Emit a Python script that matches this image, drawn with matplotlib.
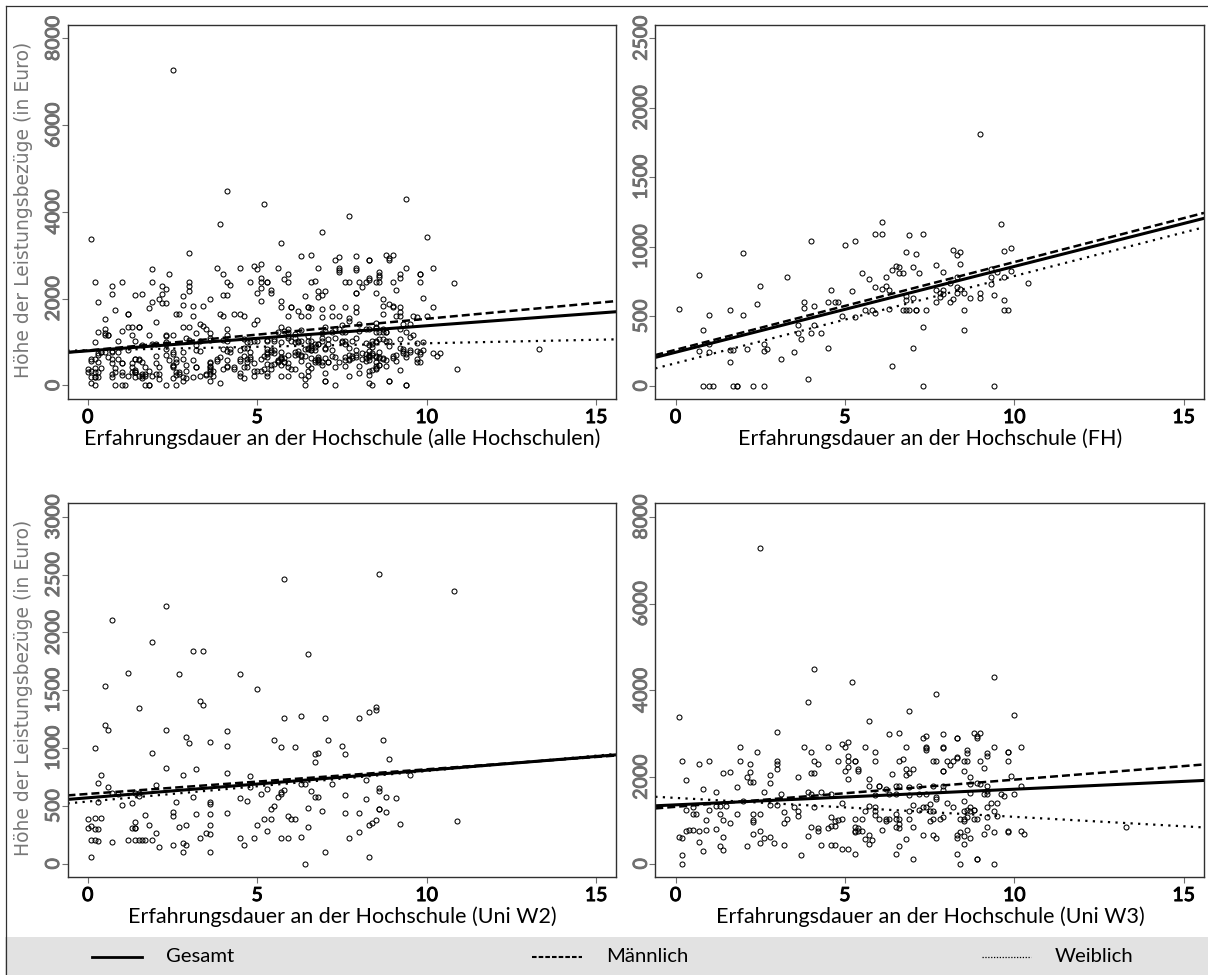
import matplotlib
matplotlib.use('Agg')
from matplotlib import pyplot as plt
from matplotlib import patheffects
from matplotlib.lines import Line2D
from matplotlib.patches import Rectangle

W, H = 1208, 975

# --- Punkte (Erfahrung, Euro) ---
fh_points = [
    (.09, 552), (.7, 796), (.8, 398), (1.0, 509), (1.0, 298), (.7, 250), (1.0, 240), (.8, 0), (1.0, 0), (1.1, 0),
    (1.6, 547), (1.6, 254), (1.7, 259), (1.6, 168), (1.7, 0), (1.8, 0), (1.8, 0), (2.0, 952), (2.0, 509), (2.1, 262),
    (2.3, 0), (2.4, 585), (2.5, 720), (2.6, 298), (2.6, 247), (2.7, 262), (2.6, 0), (3.1, 192), (3.3, 785), (3.5, 240),
    (3.6, 437), (3.6, 381), (3.7, 336), (3.8, 605), (3.8, 557), (3.9, 48), (4.0, 1039), (4.0, 381), (4.1, 576), (4.1, 434),
    (4.3, 381), (4.5, 605), (4.5, 273), (4.6, 686), (4.7, 600), (4.8, 605), (4.9, 504), (5.0, 1015), (5.2, 684), (5.3, 1044),
    (5.3, 494), (5.5, 809), (5.6, 547), (5.7, 768), (5.8, 547), (5.9, 1092), (5.9, 710), (5.9, 523), (6.1, 1092), (6.1, 1178),
    (6.1, 693), (6.2, 780), (6.2, 715), (6.3, 691), (6.3, 552), (6.4, 830), (6.4, 144), (6.5, 864), (6.6, 852), (6.6, 811),
    (6.7, 811), (6.7, 547), (6.8, 960), (6.8, 643), (6.8, 614), (6.8, 547), (6.9, 1085), (6.9, 547), (7.0, 852), (7.0, 631),
    (7.0, 273), (7.1, 945), (7.1, 547), (7.1, 547), (7.2, 811), (7.3, 1092), (7.3, 425), (7.3, 0), (7.4, 547), (7.7, 871),
    (7.7, 691), (7.7, 605), (7.8, 665), (7.8, 641), (7.9, 818), (7.9, 691), (7.9, 662), (8.1, 741), (8.1, 605), (8.2, 974),
    (8.2, 624), (8.3, 938), (8.3, 780), (8.3, 708), (8.3, 669), (8.4, 960), (8.4, 878), (8.4, 698), (8.5, 665), (8.5, 547),
    (8.5, 401), (8.7, 633), (9.0, 1809), (9.0, 665), (9.0, 629), (9.3, 837), (9.3, 785), (9.3, 734), (9.4, 655), (9.4, 0),
    (9.5, 821), (9.6, 1166), (9.7, 967), (9.7, 785), (9.7, 614), (9.7, 547), (9.8, 547), (9.9, 988), (9.9, 825), (10.4, 737),
]
w2_points = [
    (0, 383), (0, 305), (.1, 328), (.1, 202), (.1, 60), (.2, 997), (.2, 398), (.2, 300), (.2, 202), (.3, 697),
    (.3, 533), (.3, 297), (.3, 199), (.4, 398), (.4, 767), (.5, 1533), (.5, 1196), (.6, 1153), (.6, 660), (.7, 2107),
    (.7, 611), (.7, 190), (.9, 602), (1.0, 510), (1.2, 1646), (1.2, 207), (1.3, 522), (1.3, 311), (1.4, 614), (1.4, 363),
    (1.4, 308), (1.4, 308), (1.4, 202), (1.5, 1343), (1.5, 614), (1.5, 585), (1.5, 205), (1.6, 207), (1.7, 207), (1.7, 418),
    (1.8, 334), (1.9, 1919), (1.9, 960), (1.9, 207), (2.0, 677), (2.0, 268), (2.1, 141), (2.3, 2231), (2.3, 1153), (2.3, 830),
    (2.5, 444), (2.5, 415), (2.5, 158), (2.6, 536), (2.7, 1643), (2.7, 314), (2.8, 767), (2.8, 182), (2.8, 104), (2.9, 1092),
    (2.9, 334), (2.9, 158), (3.0, 1043), (3.1, 1836), (3.1, 573), (3.2, 816), (3.2, 429), (3.3, 1409), (3.3, 219), (3.4, 1836),
    (3.4, 1375), (3.5, 265), (3.6, 1055), (3.6, 533), (3.6, 519), (3.6, 429), (3.6, 334), (3.6, 254), (3.6, 104), (4.1, 1150),
    (4.1, 1020), (4.1, 787), (4.1, 441), (4.5, 1643), (4.5, 565), (4.5, 219), (4.6, 164), (4.7, 539), (4.8, 761), (4.8, 660),
    (4.9, 219), (5.0, 1513), (5.0, 337), (5.1, 599), (5.2, 386), (5.3, 648), (5.3, 280), (5.4, 470), (5.4, 386), (5.5, 1066),
    (5.5, 501), (5.6, 573), (5.7, 1006), (5.7, 602), (5.7, 620), (5.7, 222), (5.8, 2458), (5.8, 1262), (5.8, 634), (5.9, 415),
    (5.9, 222), (6.0, 383), (6.1, 1006), (6.1, 383), (6.3, 1274), (6.3, 686), (6.3, 228), (6.4, 686), (6.4, 0), (6.5, 1813),
    (6.5, 478), (6.5, 320), (6.6, 628), (6.7, 876), (6.7, 945), (6.7, 573), (6.8, 960), (6.8, 573), (6.9, 458), (7.0, 1256),
    (7.0, 104), (7.1, 1066), (7.2, 686), (7.5, 1014), (7.6, 951), (7.6, 591), (7.6, 435), (7.7, 219), (8.0, 1256), (8.0, 435),
    (8.0, 274), (8.2, 726), (8.2, 556), (8.3, 1308), (8.3, 337), (8.3, 58), (8.4, 354), (8.5, 1354), (8.5, 1326), (8.5, 380),
    (8.6, 2504), (8.6, 651), (8.6, 628), (8.6, 476), (8.6, 476), (8.7, 1066), (8.8, 573), (8.8, 444), (8.9, 908), (9.1, 565),
    (9.2, 343), (9.5, 764), (10.8, 2357), (10.9, 372),
]
w3_points = [
    (.1, 3381), (.1, 607), (.2, 2375), (.2, 600), (.2, 192), (.2, 0), (.3, 1921), (.3, 1237), (.3, 745), (.4, 768),
    (.5, 768), (.5, 1299), (.5, 1153), (.6, 1153), (.7, 2298), (.7, 761), (.7, 507), (.8, 1729), (.8, 300), (.9, 1014),
    (.9, 768), (1.0, 2375), (1.0, 1245), (1.2, 1652), (1.2, 1337), (1.2, 807), (1.3, 1337), (1.3, 1153), (1.3, 415), (1.4, 2083),
    (1.4, 1014), (1.4, 607), (1.4, 307), (1.5, 1337), (1.6, 2106), (1.6, 938), (1.8, 1775), (1.8, 1153), (1.9, 2682), (1.9, 2375),
    (2.0, 1452), (2.1, 1990), (2.1, 415), (2.2, 2298), (2.2, 2106), (2.2, 1890), (2.3, 1890), (2.3, 1145), (2.3, 1007), (2.3, 953),
    (2.3, 691), (2.4, 2567), (2.5, 7270), (2.5, 1153), (2.5, 761), (2.5, 469), (2.6, 1652), (2.6, 600), (2.8, 2052), (2.8, 1852),
    (2.8, 1345), (2.8, 607), (2.9, 469), (3.0, 3043), (3.0, 2375), (3.0, 2290), (3.0, 2183), (3.0, 1352), (3.1, 1606), (3.2, 1199),
    (3.2, 930), (3.2, 423), (3.3, 1030), (3.5, 1306), (3.6, 1990), (3.6, 1207), (3.6, 1091), (3.7, 207), (3.8, 2697), (3.9, 3719),
    (3.9, 1652), (3.9, 645), (4.0, 2567), (4.0, 2083), (4.0, 1606), (4.0, 838), (4.1, 4488), (4.1, 2375), (4.1, 2083), (4.1, 1299),
    (4.2, 2305), (4.2, 830), (4.2, 761), (4.3, 1645), (4.3, 423), (4.5, 2697), (4.5, 822), (4.6, 1606), (4.6, 1076), (4.6, 861),
    (4.6, 423), (4.7, 991), (4.7, 861), (4.7, 423), (4.8, 2375), (4.8, 1007), (4.9, 2759), (4.9, 1406), (4.9, 1030), (4.9, 330),
    (5.0, 2682), (5.0, 2136), (5.1, 2797), (5.1, 2482), (5.1, 2375), (5.1, 2236), (5.1, 1952), (5.1, 330), (5.2, 4180), (5.3, 2375),
    (5.3, 2375), (5.3, 1030), (5.3, 838), (5.3, 761), (5.3, 730), (5.3, 215), (5.4, 822), (5.4, 761), (5.4, 2190), (5.4, 2129),
    (5.5, 1030), (5.5, 753), (5.6, 2697), (5.6, 1222), (5.6, 561), (5.7, 3281), (5.7, 1952), (5.7, 1798), (5.7, 1337), (5.7, 661),
    (5.7, 461), (5.8, 538), (5.9, 2567), (5.9, 2375), (5.9, 1591), (5.9, 1299), (5.9, 1222), (5.9, 1130), (6.0, 1798), (6.0, 1798),
    (6.0, 1030), (6.1, 768), (6.2, 1722), (6.2, 1022), (6.2, 991), (6.3, 2990), (6.3, 1606), (6.3, 1030), (6.4, 2067), (6.5, 1798),
    (6.5, 1606), (6.5, 1145), (6.5, 1030), (6.5, 838), (6.5, 215), (6.6, 3012), (6.6, 2375), (6.6, 1783), (6.6, 1030), (6.6, 915),
    (6.6, 822), (6.6, 407), (6.7, 2405), (6.8, 2697), (6.8, 2183), (6.8, 2044), (6.8, 576), (6.9, 3527), (6.9, 2083), (6.9, 1767),
    (6.9, 1575), (6.9, 1207), (6.9, 1030), (7.0, 2183), (7.0, 1352), (7.0, 838), (7.0, 108), (7.2, 1798), (7.2, 1606), (7.2, 1237),
    (7.3, 2897), (7.3, 1299), (7.3, 661), (7.4, 2951), (7.4, 2697), (7.4, 2659), (7.4, 2620), (7.4, 1606), (7.4, 1299), (7.5, 1383),
    (7.5, 1222), (7.5, 991), (7.6, 1798), (7.6, 2375), (7.6, 1222), (7.6, 1030), (7.6, 661), (7.7, 3912), (7.7, 2375), (7.7, 1545),
    (7.7, 1483), (7.7, 584), (7.8, 1030), (7.9, 2990), (7.9, 2697), (7.9, 2659), (7.9, 2136), (7.9, 2136), (7.9, 1798), (7.9, 1698),
    (7.9, 1084), (8.0, 2375), (8.0, 1406), (8.1, 2275), (8.2, 2375), (8.2, 1299), (8.3, 2897), (8.3, 2897), (8.3, 2428), (8.3, 2467),
    (8.3, 661), (8.3, 584), (8.3, 230), (8.4, 1030), (8.4, 738), (8.4, 0), (8.5, 2375), (8.5, 2136), (8.5, 1437), (8.5, 1222),
    (8.5, 1030), (8.5, 991), (8.5, 645), (8.5, 446), (8.6, 2620), (8.6, 2544), (8.6, 2375), (8.6, 1237), (8.6, 1068), (8.6, 768),
    (8.7, 1990), (8.7, 1829), (8.7, 1637), (8.7, 1299), (8.7, 1222), (8.7, 600), (8.8, 3012), (8.8, 1237), (8.8, 1237), (8.8, 1030),
    (8.9, 2943), (8.9, 2890), (8.9, 1867), (8.9, 1030), (8.9, 108), (8.9, 108), (9.0, 3012), (9.0, 2375), (9.0, 1837), (9.1, 2206),
    (9.1, 1606), (9.1, 691), (9.2, 2559), (9.2, 2475), (9.2, 1798), (9.2, 1683), (9.2, 1606), (9.2, 1299), (9.2, 1076), (9.2, 853),
    (9.3, 1406), (9.4, 4296), (9.4, 2697), (9.4, 1222), (9.4, 722), (9.4, 0), (9.5, 1406), (9.5, 1107), (9.6, 1606), (9.7, 1568),
    (9.8, 2567), (9.8, 2567), (9.8, 2375), (9.8, 761), (9.8, 730), (9.9, 2014), (10.0, 3420), (10.0, 1606), (10.2, 2697), (10.2, 1798),
    (10.2, 745), (10.3, 676), (13.3, 838),
]
# "alle Hochschulen" ist die Vereinigung der drei Gruppen
alle_points = fh_points + w2_points + w3_points

# --- Regressionsgeraden: Werte am linken und rechten Rand (Gesamt, Maennlich, Weiblich) ---
alle_lines = [(760, 1697), (760, 1943), (798, 1060)]
fh_lines = [(204, 1204), (221, 1243), (125, 1140)]
w2_lines = [(556, 942), (591, 936), (522, 950)]
w3_lines = [(1337, 1921), (1276, 2290), (1545, 838)]

line_x = [-0.6, 15.6]
x_ticks = [0, 5, 10, 15]
legend_names = ['Gesamt', 'Männlich', 'Weiblich']

DASHES = {'Gesamt': '-', 'Männlich': (0, (3.2, 1.6)), 'Weiblich': (0, (1, 2.4))}
WIDTHS = {'Gesamt': 2.2, 'Männlich': 1.8, 'Weiblich': 1.6}
GRAY = '#6f6f6f'
SANS = 'Lato'


def px_axes(fig, left, top, right, bottom):
    return fig.add_axes([left / W, 1 - bottom / H, (right - left) / W, (bottom - top) / H])


def fett(lab, color):
    # Lato fett kommt nicht durch, also Kontur drum
    lab.set_family(SANS)
    lab.set_path_effects([patheffects.withStroke(linewidth=0.7, foreground=color)])


fig = plt.figure(figsize=(W / 100, H / 100), dpi=100)
fig.patch.set_facecolor('white')

panels = [
    (alle_points, alle_lines, 'Erfahrungsdauer an der Hochschule (alle Hochschulen)', [0, 2000, 4000, 6000, 8000],
     (-322, 8313), (67.6, 24.7, 616.5, 399.3), True),
    (fh_points, fh_lines, 'Erfahrungsdauer an der Hochschule (FH)', [0, 500, 1000, 1500, 2000, 2500],
     (-97, 2596), (655.4, 24.7, 1204, 399.3), False),
    (w2_points, w2_lines, 'Erfahrungsdauer an der Hochschule (Uni W2)', [0, 500, 1000, 1500, 2000, 2500, 3000],
     (-117, 3116), (67.6, 503.3, 616.5, 877.3), True),
    (w3_points, w3_lines, 'Erfahrungsdauer an der Hochschule (Uni W3)', [0, 2000, 4000, 6000, 8000],
     (-312, 8312), (655.4, 503.3, 1204, 877.3), False),
]

for points, lines, xlabel, y_ticks, ylim, box, with_ylabel in panels:
    ax = px_axes(fig, *box)
    xs, ys = zip(*points)
    ax.plot(xs, ys, linestyle='none', marker='o', markersize=3.6, markerfacecolor='none',
            markeredgecolor='black', markeredgewidth=0.75)
    for name, values in zip(legend_names, lines):
        ax.plot(line_x, values, color='black', linestyle=DASHES[name], linewidth=WIDTHS[name])
    ax.set_xlim(-0.596, 15.6)
    ax.set_ylim(*ylim)
    ax.set_xticks(x_ticks)
    ax.set_yticks(y_ticks)
    ax.tick_params(axis='x', length=4, width=0.8, color=GRAY, pad=3, labelsize=14)
    ax.tick_params(axis='y', length=4, width=0.8, color=GRAY, pad=0, labelsize=14, labelcolor=GRAY)
    for lab in ax.get_xticklabels():
        fett(lab, 'black')
    for lab in ax.get_yticklabels():
        fett(lab, GRAY)
        lab.set_rotation(90), lab.set_va('center')
    for sp in ax.spines.values():
        sp.set_linewidth(1.0), sp.set_color('#303030')

    mid = (box[0] + box[2]) / 2
    fig.text((mid + 0.5) / W, 1 - (box[3] + 39) / H, xlabel, ha='center', va='center', fontsize=15.5, family=SANS)
    if with_ylabel:
        fig.text(24 / W, 1 - ((box[1] + box[3]) / 2 - 2) / H, 'Höhe der Leistungsbezüge (in Euro)', rotation=90,
                 ha='center', va='center', fontsize=13.5, color='#777777', family='DejaVu Sans')

# --- Legende: graues Band unten, volle Breite ---
leg = px_axes(fig, 5, 937, W, H)
leg.set_xlim(5, W)
leg.set_ylim(H, 937)
leg.axis('off')
leg.add_patch(Rectangle((5, 937), W - 5, H - 937, facecolor='#e2e2e2', edgecolor='none'))
sample_x = [(92, 142), (532, 582), (982, 1031)]
text_x = [166, 606, 1055]
for name, sx, tx in zip(legend_names, sample_x, text_x):
    lw = {'Gesamt': 2.0, 'Männlich': 1.5, 'Weiblich': 0.9}[name]
    ds = {'Gesamt': '-', 'Männlich': (0, (2.2, 1.0)), 'Weiblich': (0, (1, 1.3))}[name]
    leg.plot(sx, [957, 957], color='black', linewidth=lw, linestyle=ds)
    leg.text(tx, 956, name, fontsize=14.6, family=SANS, va='center', ha='left')

# --- Rahmen ---
fig.add_artist(Line2D([5.5 / W, 5.5 / W], [0, 1 - 6 / H], color='#303030', linewidth=0.9))
fig.add_artist(Line2D([5.5 / W, 1], [1 - 6 / H, 1 - 6 / H], color='#303030', linewidth=0.9))

fig.savefig('out.png', dpi=100, facecolor='white')
